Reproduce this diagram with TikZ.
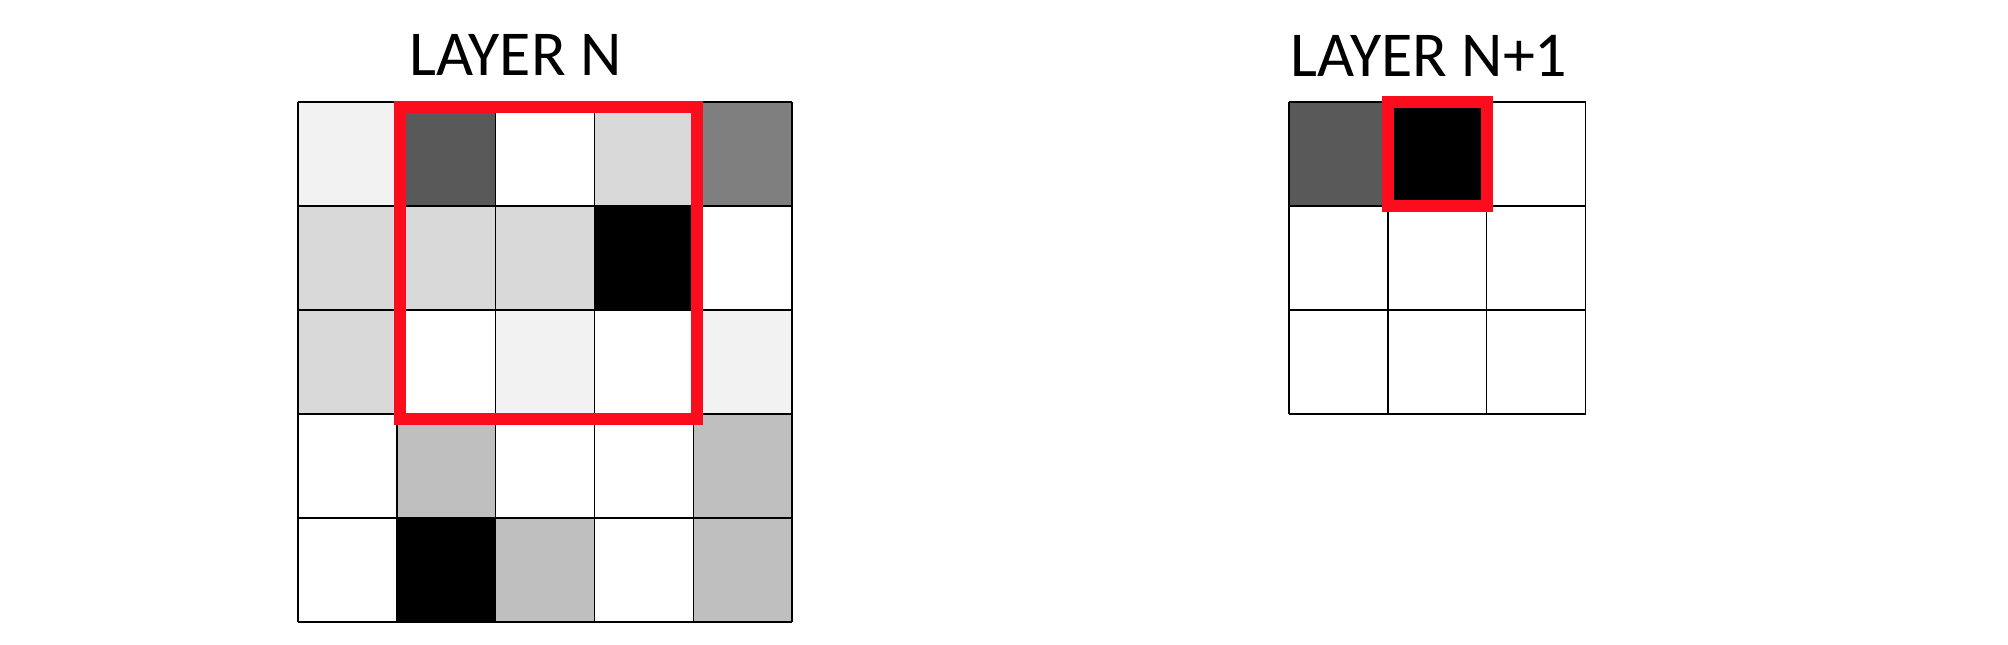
\documentclass[tikz,border=0pt]{standalone}
\usepackage{fontspec}
\setmainfont{Carlito}
\definecolor{gA}{HTML}{F2F2F2}
\definecolor{gB}{HTML}{D9D9D9}
\definecolor{gC}{HTML}{BFBFBF}
\definecolor{gD}{HTML}{7F7F7F}
\definecolor{gE}{HTML}{595959}
\definecolor{redbox}{RGB}{252,13,30}
\tikzset{
  gridline/.style={draw=black, line width=0.7pt},
  hilite/.style={draw=redbox, line width=6pt},
  title/.style={inner sep=0pt, anchor=base west, font=\fontsize{32}{38}\selectfont},
}
\begin{document}
\begin{tikzpicture}[x=0.5pt,y=-0.5pt]
\useasboundingbox (0,0) rectangle (2008,644);
% left grid: x0=298, cell w=98.8 ; y0=102, cell h=104
\def\cw{98.8}
\def\ch{104}
\foreach \r/\c/\col in {0/0/gA,0/1/gE,0/3/gB,0/4/gD,
                        1/0/gB,1/1/gB,1/2/gB,1/3/black,
                        2/0/gB,2/2/gA,2/4/gA,
                        3/1/gC,3/4/gC,
                        4/1/black,4/2/gC,4/4/gC}{
  \fill[\col] ({298+\c*\cw},{102+\r*\ch}) rectangle ++(\cw,\ch);
}
\foreach \i in {0,...,5}{
  \draw[gridline] ({298+\i*\cw},102) -- ({298+\i*\cw},622);
  \draw[gridline] (298,{102+\i*\ch}) -- (792,{102+\i*\ch});
}
\draw[hilite] (400,107) rectangle (696.7,419);
% right grid: x0=1289
\fill[gE] (1289,102) rectangle ++(\cw,\ch);
\fill[black] ({1289+\cw},102) rectangle ++(\cw,\ch);
\foreach \i in {0,...,3}{
  \draw[gridline] ({1289+\i*\cw},102) -- ({1289+\i*\cw},414);
  \draw[gridline] (1289,{102+\i*\ch}) -- (1585.7,{102+\i*\ch});
}
\draw[hilite] (1388.3,102) rectangle (1487,206);
\node[title] (tN) at (409,75.7) {LAYER N};
\node[title] (tN1) at (1290.5,76) {LAYER N+1};
\end{tikzpicture}
\end{document}
